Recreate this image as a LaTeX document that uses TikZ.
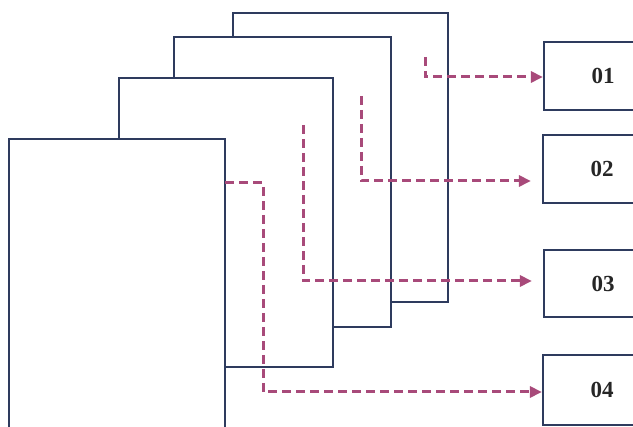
\documentclass[tikz,border=0pt]{standalone}
\usepackage{fontspec}
\setmainfont{Liberation Serif}
\usetikzlibrary{arrows.meta}
\definecolor{sheetc}{HTML}{2E3B5E}
\definecolor{flowc}{HTML}{A84A7A}
\begin{document}
\begin{tikzpicture}[x=1pt,y=-1pt,
  sheet/.style={draw=sheetc,line width=2.2pt,line join=miter},
  flow/.style={draw=flowc,line width=3pt,dash pattern=on 9pt off 5pt,
    -{Triangle[length=12pt,width=11pt]}},
  outbox/.style={draw=sheetc,line width=2.2pt,minimum width=118pt,inner sep=0pt,
    font=\bfseries\fontsize{23}{23}\selectfont,text=black!85}]
\useasboundingbox (0,0) rectangle (633,427);
\clip (0,0) rectangle (633,427);
% sheets (back to front)
\draw[sheet] (233,37) -- (233,13) -- (448,13) -- (448,302) -- (391,302);
\draw[sheet] (174,78) -- (174,37) -- (391,37) -- (391,327) -- (333,327);
\draw[sheet] (119,139) -- (119,78) -- (333,78) -- (333,367) -- (225,367);
\draw[sheet] (9,440) -- (9,139) -- (225,139) -- (225,440);
% output boxes
\node[outbox,minimum height=68pt] (b1) at (603,76) {01};
\node[outbox,minimum height=68pt] (b2) at (602,169) {02};
\node[outbox,minimum height=67pt] (b3) at (603,283.5) {03};
\node[outbox,minimum height=70pt] (b4) at (602,390) {04};
% flow start points
\coordinate (s1) at (425,57);
\coordinate (s2) at (361,96);
\coordinate (s3) at (303,125);
\coordinate (s4) at (225,183);
\coordinate (k4) at (263,183);
\draw[flow] (s1) |- ([yshift=-1pt]b1.west);
\draw[flow,shorten >=11pt] (s2) |- ([yshift=-12pt]b2.west);
\draw[flow,shorten >=11pt] (s3) |- ([yshift=2.5pt]b3.west);
\draw[flow] (s4) -- (k4) |- ([yshift=-2pt]b4.west);
\end{tikzpicture}
\end{document}
